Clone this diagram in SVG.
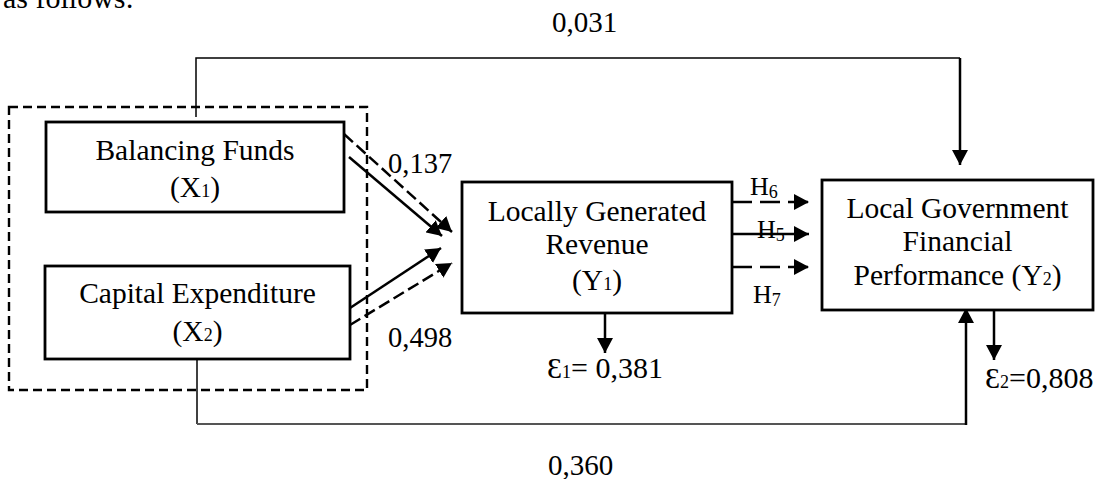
<svg xmlns="http://www.w3.org/2000/svg" width="1104" height="479" viewBox="0 0 1104 479">
<style>
text{font-family:"Liberation Serif","Times New Roman",serif;fill:#000}
.n{font-size:29.5px;text-anchor:middle}
.lbl{font-size:28.5px}
.eps{font-size:30px}
.h{font-size:26px}
.sub{font-size:18px}
.box{fill:#fff;stroke:#000;stroke-width:2.8}
.c{fill:none;stroke:#000;stroke-width:2.5}
.thin{fill:none;stroke:#000;stroke-width:1.5}
.dd{stroke-dasharray:12,5}
.dh{stroke-dasharray:20,8}
</style>
<defs>
<marker id="ah" markerUnits="userSpaceOnUse" markerWidth="16" markerHeight="16" refX="15" refY="8" orient="auto">
<path d="M0,0 L15,8 L0,16 z" fill="#000"/>
</marker>
</defs>
<rect width="1104" height="479" fill="#fff"/>
<text x="3" y="8" style="font-size:30px">as follows:</text>

<g id="connectors">
<path class="thin" d="M196,117 V58 H960"/>
<path class="c" d="M960,58 V165" marker-end="url(#ah)"/>
<path class="thin" d="M197,359 V424" stroke-width="1.3"/>
<path d="M197,424 H966" fill="none" stroke="#555" stroke-width="2"/>
<path class="c" d="M966,425 V308" marker-end="url(#ah)"/>
<path class="c" d="M349,157 L442,236" marker-end="url(#ah)"/>
<path class="c dd" d="M344,134 L452,232" marker-end="url(#ah)"/>
<path class="c" d="M350,308 L441,248" marker-end="url(#ah)"/>
<path class="c dd" d="M350,325 L452,263" marker-end="url(#ah)"/>
<path class="c dh" d="M732,202 H809" marker-end="url(#ah)"/>
<path class="c" d="M732,234 H809" marker-end="url(#ah)"/>
<path class="c dh" d="M732,267 H809" marker-end="url(#ah)"/>
<path class="c" d="M605,303 V353" marker-end="url(#ah)"/>
<path class="c" d="M994,299 V360" marker-end="url(#ah)"/>
</g>

<g id="group-x">
<rect x="9" y="107" width="358" height="283" fill="none" stroke="#000" stroke-width="2.4" stroke-dasharray="9,5"/>
</g>

<g id="x1">
<rect class="box" x="46" y="122" width="298" height="90"/>
<text class="n" x="195" y="160">Balancing Funds</text>
<text class="n" x="195" y="197">(X<tspan class="sub">1</tspan>)</text>
</g>

<g id="x2">
<rect class="box" x="45" y="266" width="305" height="93"/>
<text class="n" x="197.5" y="303">Capital Expenditure</text>
<text class="n" x="197.5" y="341">(X<tspan class="sub">2</tspan>)</text>
</g>

<g id="y1">
<rect class="box" x="462" y="182" width="270" height="131"/>
<text class="n" x="597" y="221">Locally Generated</text>
<text class="n" x="597" y="254">Revenue</text>
<text class="n" x="597" y="290">(Y<tspan class="sub">1</tspan>)</text>
</g>

<g id="y2">
<rect class="box" x="822" y="180" width="271" height="130"/>
<text class="n" x="957.5" y="218">Local Government</text>
<text class="n" x="957.5" y="251">Financial</text>
<text class="n" x="957.5" y="285">Performance (Y<tspan class="sub">2</tspan>)</text>
</g>

<g id="labels">
<text class="lbl" x="552" y="32" style="font-size:29px">0,031</text>
<text class="lbl" x="548" y="475" style="font-size:29px">0,360</text>
<text class="lbl" x="388" y="173">0,137</text>
<text class="lbl" x="388" y="347">0,498</text>
<text class="h" x="750" y="195">H<tspan class="sub" dy="3">6</tspan></text>
<text class="h" x="757" y="238">H<tspan class="sub" dy="3">5</tspan></text>
<text class="h" x="753" y="303">H<tspan class="sub" dy="3">7</tspan></text>
<text class="eps" x="547" y="378">Ɛ<tspan class="sub">1</tspan>= 0,381</text>
<text class="eps" x="985" y="388">Ɛ<tspan class="sub">2</tspan>=0,808</text>
</g>
</svg>
